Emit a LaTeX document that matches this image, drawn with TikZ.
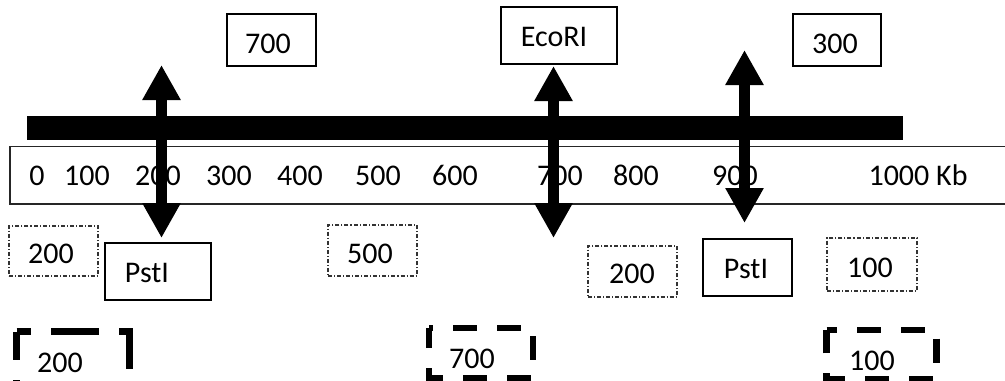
\documentclass[tikz,border=0pt]{standalone}
\usepackage{fontspec}
\setmainfont{Carlito}
\usetikzlibrary{arrows.meta,fit}

\begin{document}
\begin{tikzpicture}[x=0.75pt,y=-0.75pt,
  lbl/.style={anchor=base,inner sep=0pt,font=\fontsize{22.5}{27}\selectfont},
  sbox/.style={draw=black,line width=1pt,inner sep=0pt},
  ddbox/.style={draw=black!80,line width=0.8pt,inner sep=0pt,
    dash pattern=on 3pt off 1.5pt on 0.8pt off 1.5pt},
  thickdash/.style={draw=black,line width=4.6pt,line join=miter},
  cutarrow/.style={line width=8.25pt,
    {Triangle[width=27pt,length=26.25pt]}-{Triangle[width=27pt,length=26.25pt]}}]

\useasboundingbox (0,0) rectangle (1005,380);
\clip (0,0) rectangle (1005,380);

% scale bar with positions
\draw[line width=1pt,draw=black!85] (10,146.5) rectangle (1020,204);
\foreach \x/\t in {37/0, 87/100, 158/200, 229/300, 300/400, 378/500,
                   455/600, 560/700, 636/800, 735/900, 918/1000 Kb}
  \node[lbl] (r\t) at (\x,185) {\t};

% DNA molecule
\fill[black] (27,116) rectangle (903,140);

% restriction cut sites
\coordinate (c1t) at (161.5,65);  \coordinate (c1b) at (161.5,238);
\coordinate (c2t) at (553.5,66);  \coordinate (c2b) at (553.5,238);
\coordinate (c3t) at (744.5,50);  \coordinate (c3b) at (744.5,223);
\draw[cutarrow] (c1t) -- (c1b);
\draw[cutarrow] (c2t) -- (c2b);
\draw[cutarrow] (c3t) -- (c3b);

% enzyme and fragment labels (solid boxes)
\node[sbox,fit={(227,14) (316,66)}] (b700) {};
\node[lbl] (t700) at (268,53) {700};
\node[sbox,fit={(501,7) (617,64)}] (beco) {};
\node[lbl] (teco) at (554,46) {EcoRI};
\node[sbox,fit={(793,14) (881,66)}] (b300) {};
\node[lbl] (t300) at (835,53) {300};
\node[sbox,fit={(105,243) (211,300)}] (bpstl) {};
\node[lbl] (tpstl) at (147,282) {PstI};
\node[sbox,fit={(703,239) (792,296)}] (bpstr) {};
\node[lbl] (tpstr) at (746,278) {PstI};

% fragments of the double digest (dash-dot boxes)
\node[ddbox,fit={(9,226) (98,276)}] (d200a) {};
\node[lbl] (td200a) at (51,263) {200};
\node[ddbox,fit={(328,225) (417,276)}] (d500) {};
\node[lbl] (td500) at (370,263) {500};
\node[ddbox,fit={(588,246) (677,297)}] (d200b) {};
\node[lbl] (td200b) at (632,283) {200};
\node[ddbox,fit={(827,238) (917,291)}] (d100) {};
\node[lbl] (td100) at (870,277) {100};

% fragments of the single digests (heavy dashed boxes)
\draw[thickdash,line width=5.25pt,dash pattern=on 36pt off 15pt,dash phase=25.1pt]
  (16.5,331.5) -- (129.5,331.5) -- (129.5,386) -- (16.5,386) -- cycle;
\node[lbl] (f200) at (60,372) {200};
\draw[thickdash,dash pattern=on 18pt off 15pt,dash phase=15pt]
  (429,328) -- (533,328) -- (533,378) -- (429,378) -- cycle;
\node[lbl] (f700) at (472,368) {700};
\draw[thickdash,dash pattern=on 18pt off 15pt,dash phase=10.1pt]
  (826.5,330) -- (936.5,330) -- (936.5,379) -- (826.5,379) -- cycle;
\node[lbl] (f100) at (872,370) {100};

\end{tikzpicture}
\end{document}
